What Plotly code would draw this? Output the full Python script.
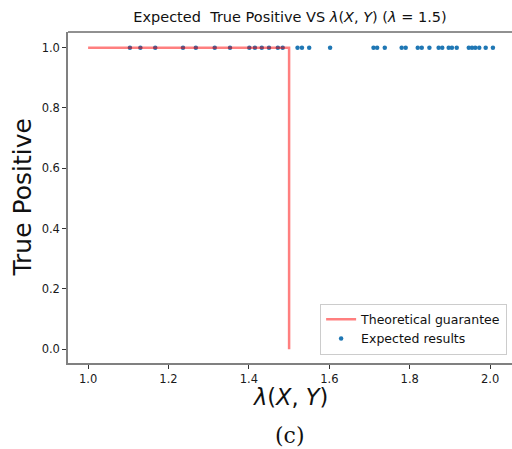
import plotly.graph_objects as go

# Data
guarantee_x = [1.0, 1.5, 1.5]
guarantee_y = [1.0, 1.0, 0.0]

expected_x = [1.104, 1.130, 1.167, 1.236, 1.268, 1.315, 1.353, 1.401, 1.415, 1.432,
              1.450, 1.472, 1.484, 1.521, 1.532, 1.550, 1.602, 1.710, 1.719, 1.738,
              1.780, 1.790, 1.820, 1.830, 1.849, 1.872, 1.881, 1.897, 1.905, 1.917,
              1.947, 1.955, 1.963, 1.973, 1.989, 2.007]
expected_y = [1.0] * len(expected_x)

x_ticks = [1.0, 1.2, 1.4, 1.6, 1.8, 2.0]
y_ticks = [0.0, 0.2, 0.4, 0.6, 0.8, 1.0]

W, H = 512, 449
L, R, T, B = 68, 0, 32, 86

fig = go.Figure()
fig.add_trace(go.Scatter(
    x=expected_x, y=expected_y, mode="markers", name="Expected results",
    marker=dict(color="#1f77b4", size=4.5, line=dict(width=0)),
    legendrank=2,
))
fig.add_trace(go.Scatter(
    x=guarantee_x, y=guarantee_y, mode="lines", name="Theoretical guarantee",
    line=dict(color="rgba(255,0,0,0.5)", width=2.5),
    legendrank=1,
))

tickfont = dict(family="DejaVu Sans", size=11.5, color="#1a1a1a")

fig.update_layout(
    width=W, height=H,
    margin=dict(l=L, r=R, t=T, b=B),
    paper_bgcolor="white", plot_bgcolor="white",
    showlegend=True,
    title=dict(
        text="Expected  True Positive VS <i>λ</i>(<i>X</i>, <i>Y</i>) (<i>λ</i> = 1.5)",
        x=(L + (W - L) / 2) / W, xanchor="center",
        y=1 - 17 / H, yanchor="middle",
        font=dict(family="DejaVu Sans", size=14.5, color="#111"),
    ),
    legend=dict(
        x=0.989, y=0.025, xanchor="right", yanchor="bottom",
        bgcolor="rgba(255,255,255,0.85)", bordercolor="#cccccc", borderwidth=1,
        font=dict(family="DejaVu Sans", size=12.5, color="#111"),
        tracegroupgap=0, itemwidth=30,
    ),
    xaxis=dict(
        range=[0.95, 0.95 + (W - L - R) / 402.0],
        tickvals=x_ticks, ticktext=[f"{v:.1f}" for v in x_ticks],
        ticks="outside", ticklen=4, tickcolor="#333", tickwidth=1,
        showgrid=False, zeroline=False,
        showline=True, linecolor="#808080", linewidth=1.5,
        tickfont=tickfont,
    ),
    yaxis=dict(
        range=[-0.046, 1.052],
        tickvals=y_ticks, ticktext=[f"{v:.1f}" for v in y_ticks],
        ticks="outside", ticklen=4, tickcolor="#333", tickwidth=1,
        showgrid=False, zeroline=False,
        showline=True, linecolor="#808080", linewidth=1.5,
        tickfont=tickfont,
    ),
    shapes=[dict(type="line", xref="paper", yref="paper", x0=0, x1=1, y0=1, y1=1,
                 line=dict(color="#222", width=1))],
    annotations=[
        dict(text="<i>λ</i>(<i>X</i>, <i>Y</i>)", xref="paper", yref="paper",
             x=0.5, y=0, xanchor="center", yanchor="middle", yshift=-(397 - (H - B)),
             showarrow=False, font=dict(family="DejaVu Sans", size=22.5, color="#111")),
        dict(text="(c)", xref="paper", yref="paper",
             x=0.5, y=0, xanchor="center", yanchor="middle", yshift=-(435 - (H - B)),
             showarrow=False, font=dict(family="DejaVu Serif", size=22, color="#111")),
        dict(text="True Positive", xref="paper", yref="paper",
             x=0, y=0.5, xanchor="center", yanchor="middle", xshift=-(L - 22),
             textangle=-90,
             showarrow=False, font=dict(family="DejaVu Sans", size=25, color="#111")),
    ],
)

fig.write_html("out.html", config={"displayModeBar": False},
               post_script="document.body.style.margin='0';document.body.style.padding='0';document.body.style.overflow='hidden';")
